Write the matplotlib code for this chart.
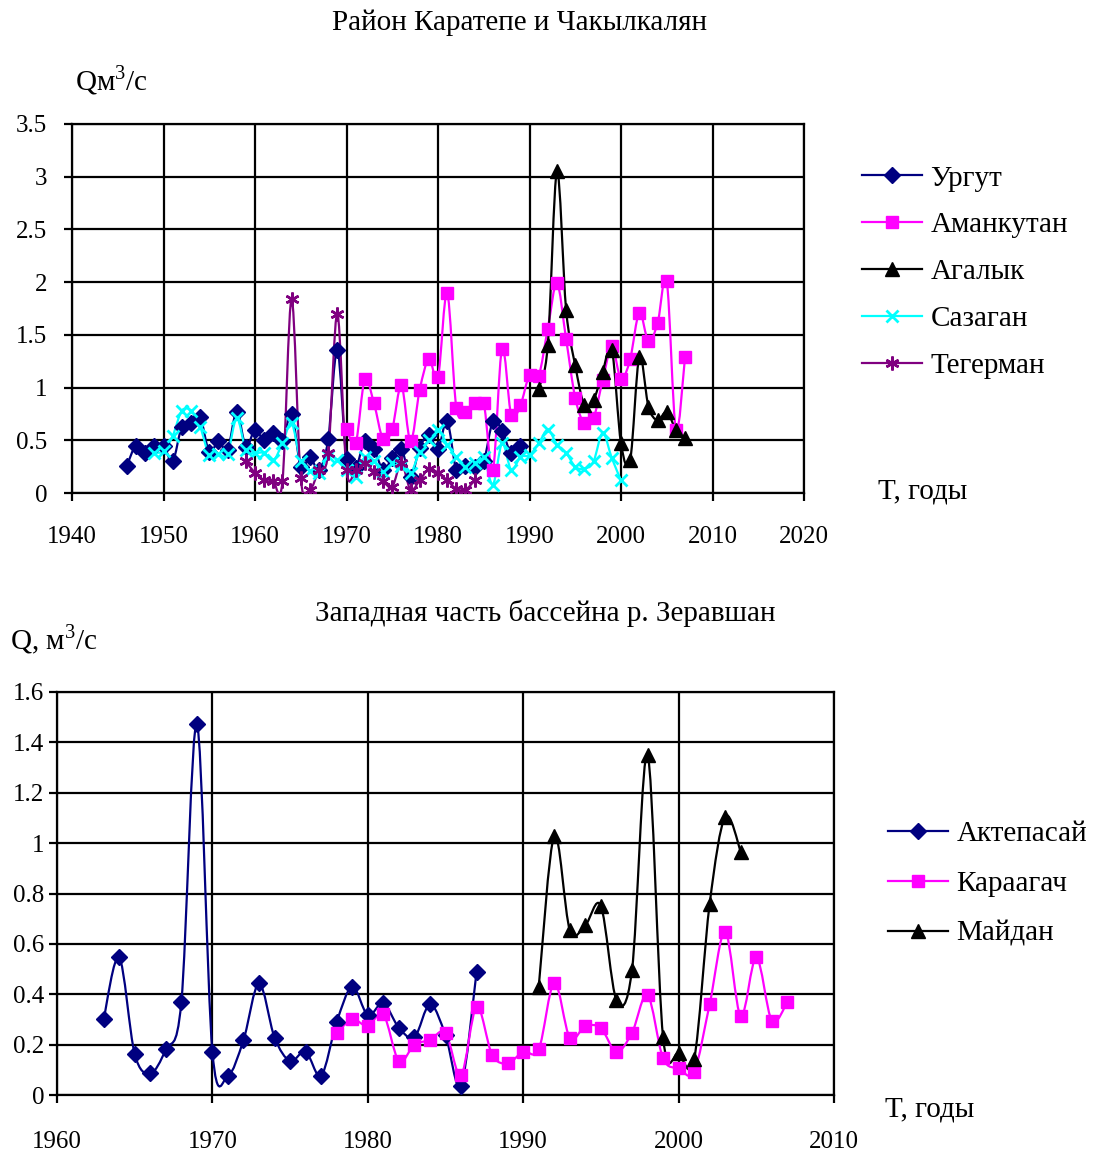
import numpy as np
import matplotlib
matplotlib.use('Agg')
import matplotlib.pyplot as plt
from matplotlib.path import Path
from matplotlib.patches import PathPatch
from matplotlib.lines import Line2D

plt.rcParams['font.family'] = ['Liberation Serif', 'DejaVu Serif']
plt.rcParams['mathtext.fontset'] = 'custom'
plt.rcParams['mathtext.rm'] = 'Liberation Serif'

# ---- top chart: Район Каратепе и Чакылкалян ----
urgut_years = list(range(1946, 1990))
urgut = [0.26, 0.45, 0.38, 0.45, 0.45, 0.30, 0.63, 0.66, 0.72, 0.39,
         0.49, 0.41, 0.77, 0.44, 0.60, 0.50, 0.57, 0.49, 0.75, 0.25,
         0.34, 0.22, 0.51, 1.36, 0.32, 0.24, 0.49, 0.42, 0.22, 0.33,
         0.42, 0.15, 0.43, 0.55, 0.42, 0.68, 0.22, 0.26, 0.25, 0.30,
         0.68, 0.59, 0.38, 0.45]

amank_years = list(range(1970, 2008))
amank = [0.61, 0.47, 1.08, 0.85, 0.51, 0.61, 1.02, 0.49, 0.98, 1.27,
         1.10, 1.90, 0.81, 0.77, 0.85, 0.85, 0.22, 1.37, 0.74, 0.83,
         1.12, 1.11, 1.56, 1.99, 1.46, 0.90, 0.66, 0.71, 1.07, 1.39,
         1.08, 1.27, 1.71, 1.44, 1.61, 2.01, 0.60, 1.29]

agal_years = list(range(1991, 2008))
agal = [0.99, 1.40, 3.05, 1.74, 1.21, 0.83, 0.88, 1.15, 1.36, 0.47,
        0.31, 1.29, 0.82, 0.69, 0.77, 0.60, 0.52]

sazag_years = list(range(1949, 2001))
sazag = [0.38, 0.40, 0.54, 0.78, 0.78, 0.63, 0.36, 0.37, 0.37, 0.71,
         0.41, 0.38, 0.38, 0.31, 0.47, 0.66, 0.30, 0.21, 0.19, 0.35,
         0.31, 0.22, 0.15, 0.34, 0.30, 0.20, 0.28, 0.26, 0.19, 0.39,
         0.50, 0.60, 0.46, 0.34, 0.25, 0.28, 0.34, 0.08, 0.47, 0.22,
         0.34, 0.36, 0.47, 0.60, 0.46, 0.38, 0.25, 0.23, 0.30, 0.57,
         0.33, 0.12]

teger_years = list(range(1959, 1985))
teger = [0.30, 0.19, 0.12, 0.11, 0.11, 1.84, 0.14, 0.03, 0.22, 0.38,
         1.70, 0.22, 0.22, 0.28, 0.20, 0.11, 0.06, 0.28, 0.03, 0.12,
         0.23, 0.19, 0.12, 0.04, 0.03, 0.12]

# ---- bottom chart: Западная часть бассейна р. Зеравшан ----
aktep_years = list(range(1963, 1988))
aktep = [0.30, 0.546, 0.163, 0.086, 0.181, 0.368, 1.472, 0.172, 0.077, 0.218,
         0.443, 0.228, 0.135, 0.172, 0.077, 0.29, 0.43, 0.317, 0.364, 0.267,
         0.229, 0.36, 0.238, 0.036, 0.49]

karaag_years = list(range(1978, 2008))
karaag = [0.247, 0.30, 0.274, 0.32, 0.135, 0.20, 0.218, 0.247, 0.079, 0.35,
          0.16, 0.126, 0.172, 0.181, 0.446, 0.227, 0.274, 0.265, 0.172, 0.247,
          0.397, 0.146, 0.106, 0.093, 0.361, 0.648, 0.313, 0.546, 0.295, 0.37]

maidan_years = list(range(1991, 2005))
maidan = [0.43, 1.03, 0.655, 0.675, 0.75, 0.377, 0.496, 1.35, 0.23, 0.165,
          0.142, 0.76, 1.105, 0.966]

W, H = 1103, 1155
FS = 18   # tick labels
FL = 21   # titles, axis labels, legend


def smooth_line(ax, xs, ys, color):
    # Excel-style smoothed line through the points (cubic Bezier)
    pts = np.column_stack([xs, ys]).astype(float)
    n = len(pts)
    verts = [pts[0]]
    codes = [Path.MOVETO]
    for i in range(n - 1):
        p0 = pts[i - 1] if i > 0 else pts[i]
        p1 = pts[i]
        p2 = pts[i + 1]
        p3 = pts[i + 2] if i + 2 < n else pts[i + 1]
        verts += [p1 + (p2 - p0) / 6.0, p2 - (p3 - p1) / 6.0, p2]
        codes += [Path.CURVE4] * 3
    ax.add_patch(PathPatch(Path(verts, codes), fill=False, edgecolor=color,
                           lw=1.6, zorder=3))


def series(ax, xs, ys, color, marker, ms, mew=1.0):
    smooth_line(ax, xs, ys, color)
    ax.plot(xs, ys, linestyle='none', marker=marker, ms=ms, color=color,
            mec=color, mew=mew, zorder=4)
    return Line2D([], [], color=color, lw=1.6, marker=marker, ms=ms, mec=color, mew=mew)


def style_axes(ax, ypad, xpad):
    ax.grid(True, color='black', lw=1.6, zorder=1)
    ax.set_axisbelow(True)
    for sp in ax.spines.values():
        sp.set_color('black')
        sp.set_linewidth(1.6)
    ax.tick_params(axis='both', direction='out', length=6, width=1.6,
                   labelsize=FS, color='black')
    ax.tick_params(axis='y', pad=ypad)
    ax.tick_params(axis='x', pad=xpad)


fig = plt.figure(figsize=(W / 100, H / 100), dpi=100)

# top
ax1 = fig.add_axes([72 / W, 1 - 493 / H, 732 / W, 369 / H])
h = []
h.append(series(ax1, urgut_years, urgut, '#000080', 'D', 8))
h.append(series(ax1, amank_years, amank, '#FF00FF', 's', 9))
h.append(series(ax1, agal_years, agal, 'black', '^', 10))
h.append(series(ax1, sazag_years, sazag, '#00FFFF', 'x', 8, 2))
h.append(series(ax1, teger_years, teger, '#800080', (6, 2, 0), 10, 1.8))
ax1.set_xlim(1940, 2020)
ax1.set_ylim(0, 3.5)
ax1.set_xticks(range(1940, 2021, 10))
ax1.set_yticks(np.arange(0, 3.51, 0.5))
ax1.set_yticklabels(['0', '0.5', '1', '1.5', '2', '2.5', '3', '3.5'])
style_axes(ax1, 12, 18)
ax1.legend(h, ['Ургут', 'Аманкутан', 'Агалык', 'Сазаган', 'Тегерман'],
           loc='center left', bbox_to_anchor=(862 / W, 1 - 272 / H),
           bbox_transform=fig.transFigure, frameon=False, fontsize=FL,
           handlelength=2.07, handletextpad=0.28, labelspacing=0.7,
           borderpad=0, borderaxespad=0)

fig.text(520 / W, 1 - 23 / H, 'Район Каратепе и Чакылкалян', fontsize=FL,
         ha='center', va='center')
fig.text(75 / W, 1 - 80 / H, 'Qм$^3$/с', fontsize=FL, ha='left', va='center')
fig.text(878 / W, 1 - 492 / H, 'T, годы', fontsize=FL, ha='left', va='center')

# bottom
ax2 = fig.add_axes([57 / W, 1 - 1095 / H, 777 / W, 403 / H])
h2 = []
h2.append(series(ax2, aktep_years, aktep, '#000080', 'D', 8))
h2.append(series(ax2, karaag_years, karaag, '#FF00FF', 's', 9))
h2.append(series(ax2, maidan_years, maidan, 'black', '^', 10))
ax2.set_xlim(1960, 2010)
ax2.set_ylim(0, 1.6)
ax2.set_xticks(range(1960, 2011, 10))
ax2.set_yticks(np.arange(0, 1.61, 0.2))
ax2.set_yticklabels(['0', '0.2', '0.4', '0.6', '0.8', '1', '1.2', '1.4', '1.6'])
style_axes(ax2, 3, 20)
ax2.legend(h2, ['Актепасай', 'Караагач', 'Майдан'],
           loc='center left', bbox_to_anchor=(888 / W, 1 - 884 / H),
           bbox_transform=fig.transFigure, frameon=False, fontsize=FL,
           handlelength=2.07, handletextpad=0.28, labelspacing=0.8,
           borderpad=0, borderaxespad=0)

fig.text(545 / W, 1 - 613 / H, 'Западная часть бассейна р. Зеравшан', fontsize=FL,
         ha='center', va='center')
fig.text(10 / W, 1 - 640 / H, 'Q, м$^3$/с', fontsize=FL, ha='left', va='center')
fig.text(885 / W, 1 - 1110 / H, 'T, годы', fontsize=FL, ha='left', va='center')

fig.savefig('out.png', dpi=100)
